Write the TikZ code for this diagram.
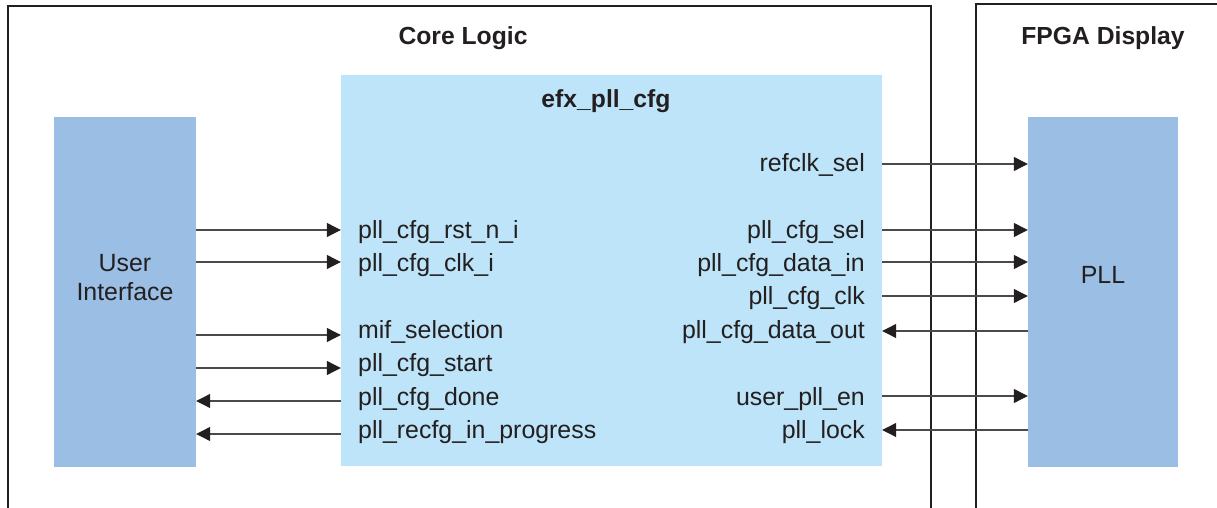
\documentclass[tikz,border=0pt]{standalone}
\usepackage{fontspec}
\setmainfont{Liberation Sans}
\usetikzlibrary{arrows.meta}
\definecolor{txt}{HTML}{231F20}
\definecolor{uifill}{HTML}{9BBFE4}
\definecolor{cfgfill}{HTML}{BDE4F8}
\definecolor{wire}{HTML}{4A4A4A}
\begin{document}
\begin{tikzpicture}[x=1pt,y=1pt,
  every node/.style={font=\fontsize{24.9}{29}\selectfont, text=txt, inner sep=0pt},
  frame/.style={draw=txt, line width=2pt},
  block/.style={draw=none, fill=uifill, minimum width=142pt, minimum height=350pt},
  title/.style={font=\fontsize{24.7}{29}\selectfont\bfseries},
  sig/.style={text height=18pt, text depth=5pt},
  arr/.style={draw=wire, line width=1.1pt, -{Triangle[length=14pt,width=14pt,fill=txt,color=txt]}}
]
\useasboundingbox (0,0) rectangle (1217,508);
\begin{scope}
\clip (0,0) rectangle (1217,508);
\draw[frame] (8,-20) rectangle (931,502);
\draw[frame] (976,-20) rectangle (1240,504);
\end{scope}
\node[title] (core) at (463,470) {Core Logic};
\node[title] (fpga) at (1103,470) {FPGA Display};

\node[block] (ui) at (125,216) {};
\node[block, fill=cfgfill, minimum width=541pt, minimum height=391pt] (efx) at (611.5,237.5) {};
\node[block, minimum width=150pt] (pll) at (1103,216) {};

\node[title] (efxt) at (606,407) {efx\_pll\_cfg};
\node[align=center] (uit) at (125,230.5) {User\\Interface};
\node (pllt) at (1103,233) {PLL};

% left labels
\node[sig, anchor=west] (rst) at (358,276) {pll\_cfg\_rst\_n\_i};
\node[sig, anchor=west] (clki) at (358,243) {pll\_cfg\_clk\_i};
\node[sig, anchor=west] (mif) at (358,176) {mif\_selection};
\node[sig, anchor=west] (start) at (358,143) {pll\_cfg\_start};
\node[sig, anchor=west] (done) at (358,109) {pll\_cfg\_done};
\node[sig, anchor=west] (recfg) at (358,76) {pll\_recfg\_in\_progress};

% right labels
\node[sig, anchor=east] (refclk) at (865,343) {refclk\_sel};
\node[sig, anchor=east] (sel) at (865,276) {pll\_cfg\_sel};
\node[sig, anchor=east] (din) at (865,243) {pll\_cfg\_data\_in};
\node[sig, anchor=east] (clk) at (865,210) {pll\_cfg\_clk};
\node[sig, anchor=east] (dout) at (865,176) {pll\_cfg\_data\_out};
\node[sig, anchor=east] (upe) at (865,109) {user\_pll\_en};
\node[sig, anchor=east] (lock) at (865,76) {pll\_lock};

% left connectors
\draw[arr] (ui.east |- 0,278) -- (efx.west |- 0,278);
\draw[arr] (ui.east |- 0,246) -- (efx.west |- 0,246);
\draw[arr] (ui.east |- 0,173) -- (efx.west |- 0,173);
\draw[arr] (ui.east |- 0,140) -- (efx.west |- 0,140);
\draw[arr] (efx.west |- 0,107) -- (ui.east |- 0,107);
\draw[arr] (efx.west |- 0,74) -- (ui.east |- 0,74);

% right connectors
\draw[arr] (efx.east |- 0,344) -- (pll.west |- 0,344);
\draw[arr] (efx.east |- 0,278) -- (pll.west |- 0,278);
\draw[arr] (efx.east |- 0,246) -- (pll.west |- 0,246);
\draw[arr] (efx.east |- 0,212) -- (pll.west |- 0,212);
\draw[arr] (pll.west |- 0,177) -- (efx.east |- 0,177);
\draw[arr] (efx.east |- 0,112) -- (pll.west |- 0,112);
\draw[arr] (pll.west |- 0,78) -- (efx.east |- 0,78);
\end{tikzpicture}
\end{document}
